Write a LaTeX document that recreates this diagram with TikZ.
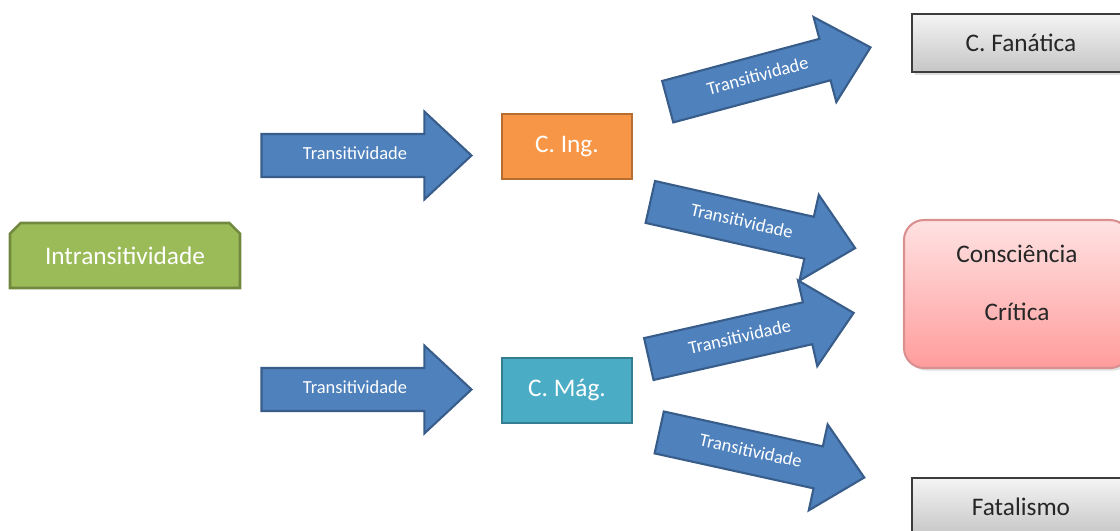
\documentclass[tikz,border=0pt]{standalone}
\usepackage{fontspec}
\setmainfont{Carlito}
\usetikzlibrary{shapes.arrows,shapes.misc,shadows}
\definecolor{arrowfill}{HTML}{4F81BD}
\definecolor{arrowedge}{HTML}{385D8A}
\definecolor{intrfill}{HTML}{9BBB59}
\definecolor{intredge}{HTML}{71893F}
\definecolor{ingfill}{HTML}{F79646}
\definecolor{ingedge}{HTML}{B66D31}
\definecolor{magfill}{HTML}{4BACC6}
\definecolor{magedge}{HTML}{357D91}
\definecolor{graytop}{HTML}{F4F4F4}
\definecolor{graybot}{HTML}{C6C6C6}
\definecolor{grayedge}{HTML}{3C3C3C}
\definecolor{pinktop}{HTML}{FFE2E2}
\definecolor{pinkbot}{HTML}{FF9C9C}
\definecolor{pinkedge}{HTML}{DA9090}
\definecolor{darktext}{HTML}{262626}
\tikzset{
  trans/.style={single arrow, draw=arrowedge, fill=arrowfill, line width=1.2pt,
    minimum height=4.2cm, minimum width=1.76cm, single arrow head extend=0.45cm,
    single arrow tip angle=86, inner xsep=1pt, inner ysep=7.1pt,
    text height=7pt, text depth=2pt, text=white,
    font=\fontsize{10.5}{12}\selectfont},
  stage/.style={draw, line width=1.5pt, minimum width=2.6cm, minimum height=1.3cm,
    text=white, font=\fontsize{14.4}{17}\selectfont},
  result/.style={draw=grayedge, line width=1.2pt, top color=graytop, bottom color=graybot,
    minimum width=4.36cm, minimum height=1.16cm, text=darktext,
    drop shadow={shadow xshift=1.5pt, shadow yshift=-1.5pt, opacity=0.25},
    font=\fontsize{14.4}{17}\selectfont}
}
\begin{document}
\begin{tikzpicture}[x=0.02cm,y=-0.02cm]
    \useasboundingbox (0,0) rectangle (1120,531);
    \clip (0,0) rectangle (1120,531);
    \node[stage, chamfered rectangle, chamfered rectangle corners={north west,north east},
      chamfered rectangle xsep=0.1cm, fill=intrfill, draw=intredge, minimum width=4.6cm]
      (intr) at (125,255.5) {Intransitividade};
    \node[stage, fill=ingfill, draw=ingedge] (cing) at (567,146.5) {C. Ing.};
    \node[stage, fill=magfill, draw=magedge] (cmag) at (567,390.5) {C. Mág.};
    \node[result] (cfan) at (1021,43) {C. Fanática};
    \node[result, draw=pinkedge, top color=pinktop, bottom color=pinkbot, rounded corners=0.4cm,
      minimum width=4.52cm, minimum height=2.96cm] (crit) at (1017,294) {};
    \node[align=center, text=darktext, font=\fontsize{14.4}{17}\selectfont]
      (critlabel) at (1017,283) {Consciência\\[0.56cm]Crítica};
    \node[result] (fatal) at (1021,507) {Fatalismo};
    \node[trans] (t1) at (355,155.5) {Transitividade};
    \node[trans] (t2) at (355,389.5) {Transitividade};
    \node[trans, rotate=15] (t3) at (758,77.5) {Transitividade};
    \node[trans, rotate=-12.7] (t4) at (741.5,222.5) {Transitividade};
    \node[trans, rotate=12.7] (t5) at (740,338.5) {Transitividade};
    \node[trans, rotate=-12.4] (t6) at (750.5,452.5) {Transitividade};
\end{tikzpicture}
\end{document}
